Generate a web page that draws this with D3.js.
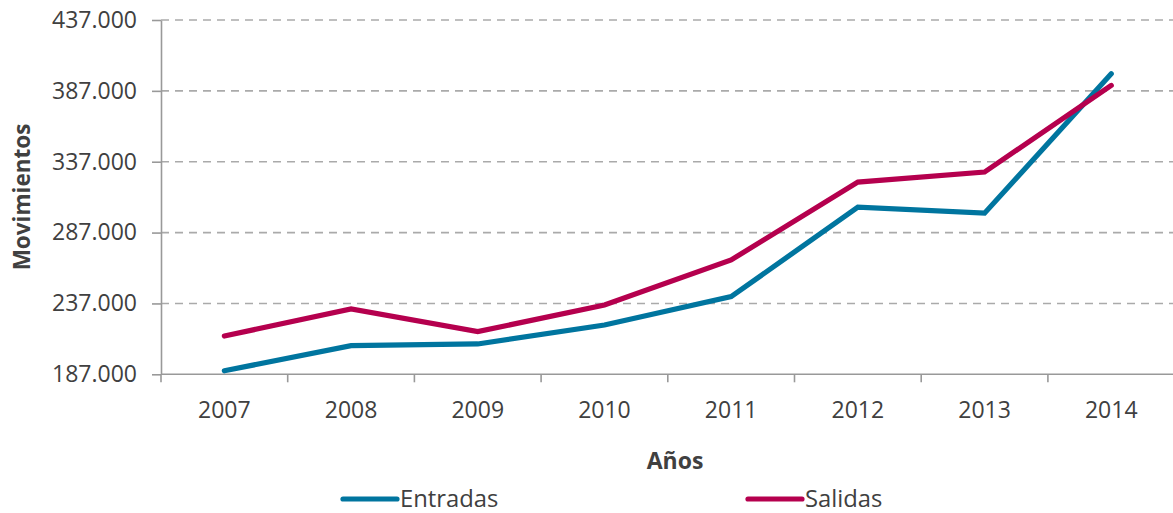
<!DOCTYPE html>
<html>
<head>
<meta charset="utf-8">
<script src="https://cdn.jsdelivr.net/npm/d3@7"></script>
<style>
  html, body { margin: 0; padding: 0; background: #fff; }
  svg { display: block; font-family: "Open Sans", "Noto Sans", sans-serif; }
</style>
</head>
<body>
<svg id="chart" width="1173" height="513"></svg>
<script>
// Movimientos por año
const years = ["2007", "2008", "2009", "2010", "2011", "2012", "2013", "2014"];
const entradas = [189500, 207200, 208400, 221800, 241800, 304900, 300700, 399100];
const salidas  = [214000, 233100, 217100, 235900, 267700, 322600, 329700, 390800];
const yTicks = [187000, 237000, 287000, 337000, 387000, 437000];
const seriesNames = ["Entradas", "Salidas"];
const seriesColors = ["#00759f", "#b5004e"];

(function () {
  const svg = d3.select("#chart");
  const W = 1173;
  const plotLeft = 161, plotRight = 1174.6, plotTop = 20, plotBottom = 374.3;
  const textColor = "#404040";
  const fontSize = "23px";

  const x = d3.scaleBand().domain(years).range([plotLeft, plotRight]).paddingInner(0).paddingOuter(0);
  const y = d3.scaleLinear().domain([187000, 437000]).range([plotBottom, plotTop]);

  // thousands shown with a dot separator, e.g. "187.000"
  const tickFmt = v => d3.format(",")(v).replace(/,/g, ".");

  // Gridlines
  svg.append("g")
    .selectAll("line")
    .data(yTicks.slice(1))
    .join("line")
    .attr("x1", plotLeft).attr("x2", W)
    .attr("y1", d => y(d)).attr("y2", d => y(d))
    .attr("stroke", "#aaaaaa")
    .attr("stroke-width", 1.6)
    .attr("stroke-dasharray", "8,6");

  // Y axis
  const yAxis = svg.append("g")
    .attr("transform", `translate(${plotLeft},0)`)
    .call(d3.axisLeft(y).tickValues(yTicks).tickFormat(tickFmt).tickSize(9).tickSizeOuter(0).tickPadding(15));
  yAxis.attr("font-family", null).attr("font-size", null);
  yAxis.select(".domain").attr("stroke", "#999").attr("stroke-width", 1.6);
  yAxis.selectAll(".tick line").attr("stroke", "#999").attr("stroke-width", 1.6);
  yAxis.selectAll(".tick text")
    .attr("fill", textColor)
    .style("font-size", fontSize);

  // X axis with ticks at band boundaries
  const xAxisG = svg.append("g").attr("transform", `translate(0,${plotBottom})`);
  xAxisG.append("line")
    .attr("x1", plotLeft).attr("x2", W)
    .attr("y1", 0).attr("y2", 0)
    .attr("stroke", "#999").attr("stroke-width", 1.6);
  xAxisG.selectAll("line.tk")
    .data(years)
    .join("line")
    .attr("class", "tk")
    .attr("x1", d => x(d)).attr("x2", d => x(d))
    .attr("y1", 0).attr("y2", 8)
    .attr("stroke", "#999").attr("stroke-width", 1.6);
  xAxisG.selectAll("text")
    .data(years)
    .join("text")
    .attr("x", d => x(d) + x.bandwidth() / 2)
    .attr("y", 43.4)
    .attr("text-anchor", "middle")
    .attr("fill", textColor)
    .style("font-size", fontSize)
    .text(d => d);

  // Axis titles
  svg.append("text")
    .attr("x", 675).attr("y", 469)
    .attr("text-anchor", "middle")
    .attr("fill", textColor)
    .style("font-size", "23px").style("font-weight", "bold")
    .text("Años");

  svg.append("text")
    .attr("transform", "translate(29.5,197) rotate(-90)")
    .attr("text-anchor", "middle")
    .attr("fill", textColor)
    .style("font-size", "22.5px").style("font-weight", "bold")
    .text("Movimientos");

  // Lines
  const line = d3.line()
    .x((d, i) => x(years[i]) + x.bandwidth() / 2)
    .y(d => y(d));

  [entradas, salidas].forEach((vals, k) => {
    svg.append("path")
      .datum(vals)
      .attr("d", line)
      .attr("fill", "none")
      .attr("stroke", seriesColors[k])
      .attr("stroke-width", 5.2)
      .attr("stroke-linecap", "round")
      .attr("stroke-linejoin", "miter");
  });

  // Legend
  const legendPos = [343, 748];
  const legend = svg.append("g");
  seriesNames.forEach((name, k) => {
    legend.append("line")
      .attr("x1", legendPos[k]).attr("x2", legendPos[k] + 54)
      .attr("y1", 499).attr("y2", 499)
      .attr("stroke", seriesColors[k])
      .attr("stroke-width", 5.2)
      .attr("stroke-linecap", "round");
    legend.append("text")
      .attr("x", legendPos[k] + 57).attr("y", 507)
      .attr("fill", textColor)
      .style("font-size", "23.8px")
      .text(name);
  });
})();
</script>
</body>
</html>
